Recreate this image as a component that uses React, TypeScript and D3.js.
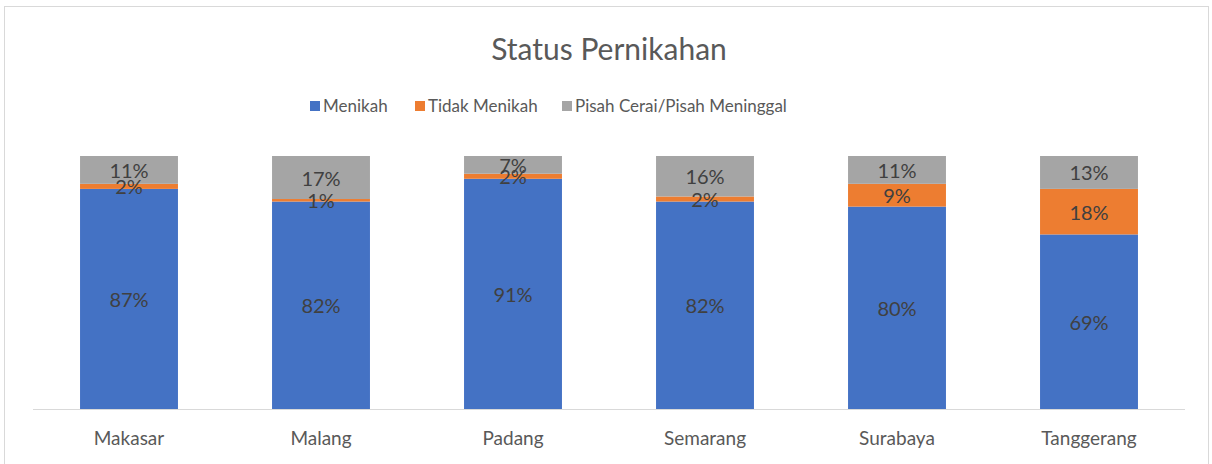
import React, { useEffect, useRef } from "react";
import * as d3 from "d3";

const cities = ["Makasar", "Malang", "Padang", "Semarang", "Surabaya", "Tanggerang"];
const series = ["Menikah", "Tidak Menikah", "Pisah Cerai/Pisah Meninggal"];
const menikah = [87, 82, 91, 82, 80, 69];
const tidakMenikah = [2, 1, 2, 2, 9, 18];
const pisah = [11, 17, 7, 16, 11, 13];
const colors = ["#4472C4", "#ED7D31", "#A5A5A5"];

const W = 1212;
const H = 464;
const FONT = "Lato, 'Open Sans', sans-serif";

const App = () => {
  const ref = useRef<SVGSVGElement | null>(null);

  useEffect(() => {
    const svg = d3.select(ref.current);
    svg.selectAll("*").remove();

    const rows = cities.map((c, i) => ({
      city: c,
      "Menikah": menikah[i],
      "Tidak Menikah": tidakMenikah[i],
      "Pisah Cerai/Pisah Meninggal": pisah[i],
    }));
    const stacked = d3.stack<any>().keys(series)(rows);

    const x = d3.scaleBand().domain(cities).range([33, 1185]).paddingInner(0.49).paddingOuter(0.245);
    const y = d3.scaleLinear().domain([0, 100]).range([409, 156]);
    const color = d3.scaleOrdinal<string>().domain(series).range(colors);

    // chart border
    svg.append("rect")
      .attr("x", 4.5).attr("y", 6.5)
      .attr("width", 1204).attr("height", 470)
      .attr("fill", "#fff").attr("stroke", "#d9d9d9");

    svg.append("text")
      .attr("x", 609).attr("y", 60)
      .attr("text-anchor", "middle")
      .attr("font-family", FONT).attr("font-size", 30)
      .attr("fill", "#595959")
      .text("Status Pernikahan");

    // legend
    const legendX = [310, 415, 562];
    const lg = svg.append("g").selectAll("g").data(series).join("g")
      .attr("transform", (d, i) => `translate(${legendX[i]},106)`);
    lg.append("rect").attr("x", 0).attr("y", -5).attr("width", 10).attr("height", 10)
      .attr("fill", d => color(d));
    lg.append("text").attr("x", 13).attr("dy", "0.35em")
      .attr("font-family", FONT).attr("font-size", 17).attr("fill", "#595959")
      .text(d => d);

    // bars
    svg.append("g").selectAll("g").data(stacked).join("g")
      .attr("fill", d => color(d.key))
      .selectAll("rect").data(d => d).join("rect")
      .attr("x", d => x(d.data.city)!)
      .attr("width", x.bandwidth())
      .attr("y", d => y(d[1]))
      .attr("height", d => y(d[0]) - y(d[1]));

    // axis line
    svg.append("line")
      .attr("x1", x.range()[0]).attr("x2", x.range()[1])
      .attr("y1", 409.5).attr("y2", 409.5)
      .attr("stroke", "#d9d9d9");

    // category labels
    svg.append("g").selectAll("text").data(cities).join("text")
      .attr("x", d => x(d)! + x.bandwidth() / 2)
      .attr("y", 438).attr("dy", "0.35em")
      .attr("text-anchor", "middle")
      .attr("font-family", FONT).attr("font-size", 19).attr("fill", "#595959")
      .text(d => d);

    // data labels, drawn above all bars (small segments overlap as in Excel)
    svg.append("g").selectAll("g").data(stacked).join("g")
      .selectAll("text").data(d => d).join("text")
      .attr("x", d => x(d.data.city)! + x.bandwidth() / 2)
      .attr("y", d => (y(d[0]) + y(d[1])) / 2 + 1)
      .attr("dy", "0.35em")
      .attr("text-anchor", "middle")
      .attr("font-family", FONT).attr("font-size", 20).attr("fill", "#404040")
      .text(d => `${d[1] - d[0]}%`);
  }, []);

  return (
    <svg ref={ref} width={W} height={H}
      style={{ position: "absolute", left: 0, top: 0, background: "#fff" }} />
  );
};

export default App;
